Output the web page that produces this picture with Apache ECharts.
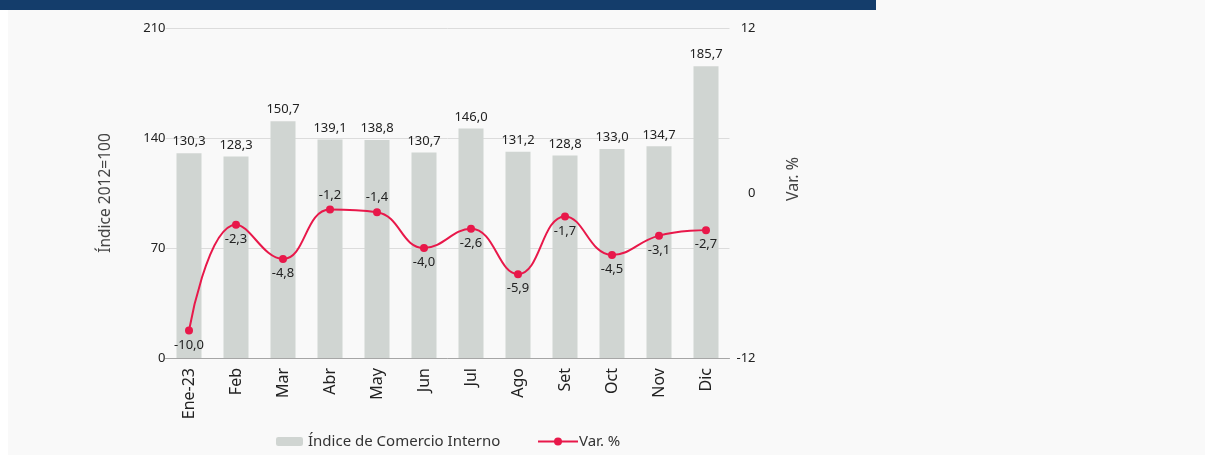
<!DOCTYPE html>
<html>
<head>
<meta charset="utf-8">
<script src="https://cdn.jsdelivr.net/npm/echarts@6/dist/echarts.min.js"></script>
<style>
html,body{margin:0;padding:0;background:#fff;}
#chart{width:1205px;height:455px;}
</style>
</head>
<body>
<div id="chart"></div>
<script>
const categories = ['Ene-23','Feb','Mar','Abr','May','Jun','Jul','Ago','Set','Oct','Nov','Dic'];
const indiceValues = [130.3,128.3,150.7,139.1,138.8,130.7,146.0,131.2,128.8,133.0,134.7,185.7];
const varValues = [-10.0,-2.3,-4.8,-1.2,-1.4,-4.0,-2.6,-5.9,-1.7,-4.5,-3.1,-2.7];
const leftTicks = [0,70,140,210];
const rightTicks = [-12,0,12];
const varLabelAbove = [false,false,false,true,true,false,false,false,false,false,false,false];

const FONT = 'Noto Sans';
const fmt = v => v.toFixed(1).replace('.', ',');

const chart = echarts.init(document.getElementById('chart'), null, {renderer:'canvas'});
chart.setOption({
  backgroundColor: '#f9f9f9',
  animation: false,
  textStyle: {fontFamily: FONT},
  graphic: [
    {type:'rect', shape:{x:0,y:0,width:8,height:455}, style:{fill:'#ffffff'}, z:-1},
    {type:'rect', shape:{x:0,y:0,width:876,height:10}, style:{fill:'#143d6b'}}
  ],
  grid: {left: 165.5, right: 1205-729.5, top: 28, bottom: 455-358},
  legend: [
    {data:[{name:'Índice de Comercio Interno'}], left: 271, top: 429, itemWidth: 27, itemHeight: 9,
     itemGap: 8, textStyle:{fontFamily: FONT, fontSize: 15, color:'#333'}},
    {data:[{name:'Var. %'}], left: 532, top: 429, itemWidth: 40, itemHeight: 10,
     textStyle:{fontFamily: FONT, fontSize: 15, color:'#333', padding:[0,0,0,-4]}}
  ],
  xAxis: {
    type: 'category',
    data: categories,
    axisLine: {lineStyle:{color:'#a6a6a6'}},
    axisTick: {show:false},
    axisLabel: {rotate: 90, margin: 10, fontSize: 16, color:'#222', fontFamily: FONT, interval: 0}
  },
  yAxis: [
    {
      type: 'value', min: leftTicks[0], max: leftTicks[leftTicks.length-1], interval: 70,
      name: 'Índice 2012=100', nameLocation: 'middle', nameGap: 52, nameRotate: 90,
      nameTextStyle: {fontSize: 15.5, color:'#444', fontFamily: FONT},
      axisLabel: {fontSize: 13, color:'#222', margin: 0, fontFamily: FONT},
      axisLine: {show:false}, axisTick:{show:false},
      splitLine: {lineStyle:{color:'#dcdcdc'}}
    },
    {
      type: 'value', min: rightTicks[0], max: rightTicks[rightTicks.length-1], interval: 12,
      name: 'Var. %', nameLocation: 'middle', nameGap: 56, nameRotate: 90,
      nameTextStyle: {fontSize: 16, color:'#444', fontFamily: FONT, padding:[0,0,0,28]},
      axisLabel: {fontSize: 13, color:'#222', margin: 26, align:'right', fontFamily: FONT},
      axisLine: {show:false}, axisTick:{show:false},
      splitLine: {show:false}
    }
  ],
  series: [
    {
      name: 'Índice de Comercio Interno',
      type: 'bar',
      data: indiceValues,
      barWidth: 25,
      itemStyle: {color:'#d0d5d2'},
      label: {show:true, position:'top', distance: 5, fontSize: 13, color:'#222', fontFamily: FONT,
              formatter: p => fmt(p.value)}
    },
    {
      name: 'Var. %',
      type: 'line',
      yAxisIndex: 1,
      smooth: 0.45,
      data: varValues.map((v,i) => ({
        value: v,
        label: {position: varLabelAbove[i] ? 'top' : 'bottom'}
      })),
      symbol: 'circle',
      symbolSize: 8,
      lineStyle: {color:'#e8184a', width: 2},
      itemStyle: {color:'#e8184a'},
      label: {show:true, distance: 4, fontSize: 13, color:'#222', fontFamily: FONT,
              formatter: p => fmt(p.value)}
    }
  ]
});
</script>
</body>
</html>
